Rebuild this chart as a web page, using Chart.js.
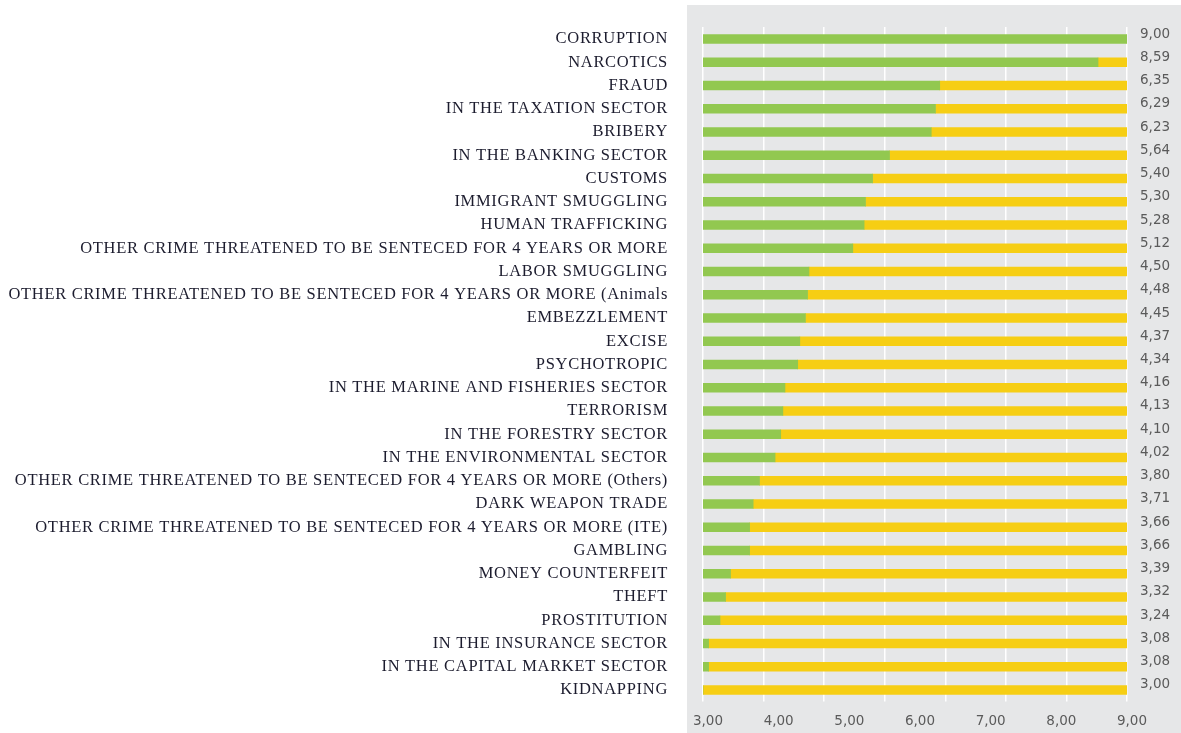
<!DOCTYPE html>
<html>
<head>
<meta charset="utf-8">
<script src="https://cdn.jsdelivr.net/npm/chart.js@4"></script>
<style>
  html, body { margin: 0; padding: 0; background: #fff; }
</style>
</head>
<body>
<canvas id="grafico" width="1181" height="733"></canvas>
<script>
const categorias = [
  'CORRUPTION',
  'NARCOTICS',
  'FRAUD',
  'IN THE TAXATION SECTOR',
  'BRIBERY',
  'IN THE BANKING SECTOR',
  'CUSTOMS',
  'IMMIGRANT SMUGGLING',
  'HUMAN TRAFFICKING',
  'OTHER CRIME THREATENED TO BE SENTECED FOR 4 YEARS OR MORE',
  'LABOR SMUGGLING',
  'OTHER CRIME THREATENED TO BE SENTECED FOR 4 YEARS OR MORE (Animals',
  'EMBEZZLEMENT',
  'EXCISE',
  'PSYCHOTROPIC',
  'IN THE MARINE AND FISHERIES SECTOR',
  'TERRORISM',
  'IN THE FORESTRY SECTOR',
  'IN THE ENVIRONMENTAL SECTOR',
  'OTHER CRIME THREATENED TO BE SENTECED FOR 4 YEARS OR MORE (Others)',
  'DARK WEAPON TRADE',
  'OTHER CRIME THREATENED TO BE SENTECED FOR 4 YEARS OR MORE (ITE)',
  'GAMBLING',
  'MONEY COUNTERFEIT',
  'THEFT',
  'PROSTITUTION',
  'IN THE INSURANCE SECTOR',
  'IN THE CAPITAL MARKET SECTOR',
  'KIDNAPPING'
]

const valores = [
  9.00, 8.59, 6.35, 6.29, 6.23, 5.64, 5.40, 5.30, 5.28, 5.12,
  4.50, 4.48, 4.45, 4.37, 4.34, 4.16, 4.13, 4.10, 4.02, 3.80,
  3.71, 3.66, 3.66, 3.39, 3.32, 3.24, 3.08, 3.08, 3.00
]

// escala vai de 3 a 9
const escalaMin = 3
const escalaMax = 9
const passoX = 1

function formatar(v) {
  return Number(v).toFixed(2).replace('.', ',')
}

// fundo cinza atras do grafico
const fundo = {
  id: 'fundo',
  beforeDraw(chart) {
    const ctx = chart.ctx
    const area = chart.chartArea
    ctx.save()
    ctx.fillStyle = '#e6e7e8'
    ctx.fillRect(area.left - 16, 5, chart.width, chart.height)
    ctx.restore()
    // nomes das categorias (z 0) saem com espacamento entre letras
    ctx.letterSpacing = '0.7px'
  },
  beforeDatasetsDraw(chart) {
    chart.ctx.letterSpacing = '0px'
  }
}

// tira o espaco extra que o chart.js reserva em cima e embaixo do eixo
function semPadding(s) {
  s.paddingTop = 0
  s.paddingBottom = 0
}

const g = new Chart(document.getElementById('grafico'), {
  type: 'bar',
  data: {
    labels: categorias,
    datasets: [{
      label: 'atingido',
      data: valores.map(v => [escalaMin, v]),
      backgroundColor: '#92c850',
      barThickness: 9,
      grouped: false
    }, {
      label: 'restante',
      data: valores.map(v => [v, escalaMax]),
      backgroundColor: '#f6ce14',
      barThickness: 9,
      grouped: false
    }]
  },
  options: {
    indexAxis: 'y',
    responsive: false,
    animation: false,
    layout: { padding: { top: 27.4, left: 0, right: 0, bottom: 0 } },
    plugins: {
      legend: { display: false },
      tooltip: { enabled: false }
    },
    scales: {
      x: {
        type: 'linear',
        min: escalaMin,
        max: escalaMax,
        grid: { display: false, drawTicks: false },
        border: { display: false },
        ticks: {
          z: 1,
          stepSize: passoX,
          color: '#5a5a5a',
          font: { family: 'DejaVu Sans', size: 13.5 },
          padding: 12,
          labelOffset: 5,
          callback: v => formatar(v)
        },
        afterFit: s => { s.height = 31.4 }
      },
      // linhas de grade brancas, com divisao propria
      xg: {
        type: 'linear',
        position: 'top',
        min: 0,
        max: 7,
        ticks: { display: false, stepSize: 1 },
        grid: { color: '#ffffff', lineWidth: 1.5, drawTicks: false },
        border: { display: false },
        afterFit: s => { s.height = 0 }
      },
      y: {
        grid: { display: false, drawTicks: false },
        border: { display: false },
        ticks: {
          color: '#1c1c2e',
          font: { family: 'Liberation Serif', size: 16.5 },
          padding: 35,
          autoSkip: false
        },
        afterFit: s => { s.width = 703; semPadding(s) }
      },
      y2: {
        type: 'category',
        position: 'right',
        labels: valores.map(formatar),
        grid: { display: false, drawTicks: false },
        border: { display: false },
        ticks: {
          z: 1,
          color: '#5a5a5a',
          font: { family: 'DejaVu Sans', size: 13.5 },
          padding: 13,
          labelOffset: -5,
          autoSkip: false
        },
        afterFit: s => { s.width = 54; semPadding(s) }
      }
    }
  },
  plugins: [fundo]
})
</script>
</body>
</html>
